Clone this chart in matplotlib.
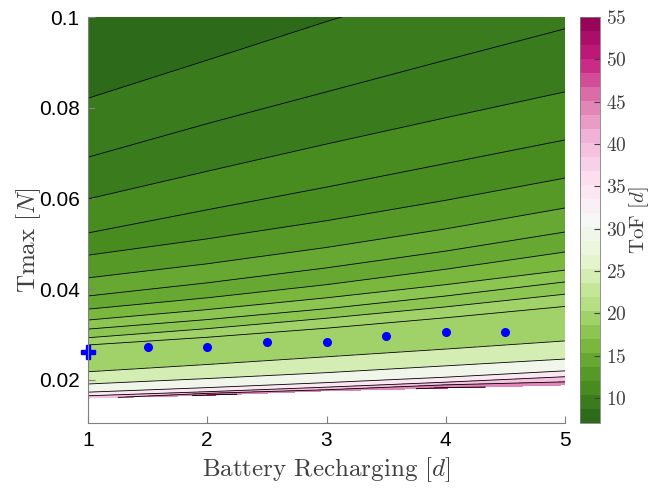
import numpy as np
import matplotlib
matplotlib.use("Agg")
import matplotlib.pyplot as plt
from matplotlib.colors import ListedColormap, Normalize
from matplotlib.cm import ScalarMappable

plt.rcParams['mathtext.fontset'] = 'cm'
plt.rcParams['axes.formatter.use_mathtext'] = True

# battery recharging [d] columns
recharge = [1, 2, 3, 4, 5]

# ToF contour levels and the Tmax [N] where each one sits, per column
tof_levels = [9, 10, 11, 12, 13, 14, 15, 16, 17, 18, 19, 20, 25, 30, 35, 40]
tmax_at_level = [
    [0.0821, 0.0905, 0.0990, 0.1070, 0.1150],
    [0.0691, 0.0765, 0.0835, 0.0905, 0.0974],
    [0.0599, 0.0660, 0.0720, 0.0778, 0.0835],
    [0.0524, 0.0575, 0.0625, 0.0677, 0.0729],
    [0.0475, 0.0511, 0.0551, 0.0596, 0.0645],
    [0.0425, 0.0456, 0.0492, 0.0533, 0.0579],
    [0.0385, 0.0414, 0.0447, 0.0484, 0.0526],
    [0.0356, 0.0381, 0.0410, 0.0444, 0.0482],
    [0.0332, 0.0355, 0.0381, 0.0410, 0.0442],
    [0.0312, 0.0333, 0.0357, 0.0385, 0.0416],
    [0.0293, 0.0313, 0.0336, 0.0361, 0.0389],
    [0.0277, 0.0294, 0.0314, 0.0337, 0.0362],
    [0.0218, 0.0234, 0.0251, 0.0268, 0.0286],
    [0.0191, 0.0203, 0.0216, 0.0231, 0.0246],
    [0.0173, 0.0183, 0.0194, 0.0206, 0.0220],
    [0.0165, 0.0174, 0.0184, 0.0195, 0.0207],
]
# upper edge (above plot) and lower edge (feasibility limit)
tmax_top = [0.125, 0.125, 0.125, 0.125, 0.125]
tof_top = [8.0, 8.2, 8.4, 8.6, 8.8]
tmax_edge = [0.0160, 0.0166, 0.0176, 0.0182, 0.0189]
tof_edge = [43, 51, 47, 51, 48]

# optimum points
opt_recharge = [1.5, 2, 2.5, 3, 3.5, 4, 4.5]
opt_tmax = [0.0273, 0.0273, 0.0284, 0.0284, 0.0297, 0.0306, 0.0306]
start_recharge = 1
start_tmax = 0.0262

fill_levels = [8] + tof_levels + [45, 50, 55]
cbar_ticks = [10, 15, 20, 25, 30, 35, 40, 45, 50, 55]

# build curvilinear grid (rows from bottom to top)
Y = np.vstack([tmax_edge] + tmax_at_level[::-1] + [tmax_top])
Z = np.vstack([tof_edge] + [[v] * len(recharge) for v in tof_levels[::-1]] + [tof_top])
X = np.tile(np.array(recharge, dtype=float), (Y.shape[0], 1))

ncol = 29
base = plt.get_cmap('PiYG_r')
cmap = ListedColormap(base((np.arange(ncol) + 0.5) / ncol))
norm = Normalize(vmin=7.05, vmax=55)
band_colors = [cmap(norm(v)) for v in fill_levels[:-1]]

fig = plt.figure(figsize=(6.53, 4.88), dpi=100)
ax = fig.add_axes([88 / 653, 65 / 488, 477 / 653, 406 / 488])
cax = fig.add_axes([580 / 653, 65 / 488, 20 / 653, 406 / 488])

ax.contourf(X, Y, Z, levels=fill_levels, colors=band_colors)
ax.contour(X, Y, Z, levels=fill_levels[1:-1], colors='k', linewidths=0.6)

ax.plot(opt_recharge, opt_tmax, 'o', color='blue', markersize=5.5)
ax.plot(start_recharge, start_tmax, 'P', color='blue', markersize=10, clip_on=False)

ax.set_xlim(1, 5)
ax.set_ylim(0.0105, 0.1)
ax.set_xticks([1, 2, 3, 4, 5])
ax.set_xticklabels(['1', '2', '3', '4', '5'])
ax.set_yticks([0.02, 0.04, 0.06, 0.08, 0.1])
ax.set_yticklabels(['0.02', '0.04', '0.06', '0.08', '0.1'])
for lab in ax.get_xticklabels() + ax.get_yticklabels():
    lab.set_fontfamily('Liberation Sans')
    lab.set_fontsize(15)
ax.tick_params(direction='in', length=5, color='#808080', pad=6)
for side in ['top', 'right']:
    ax.spines[side].set_visible(False)
for side in ['left', 'bottom']:
    ax.spines[side].set_color('#808080')
    ax.spines[side].set_linewidth(0.8)

ax.set_xlabel(r'Battery Recharging $[d]$', family='cmr10', fontsize=18, color='#404040')
ax.set_ylabel(r'Tmax $[N]$', family='cmr10', fontsize=18, color='#404040')
ax.xaxis.set_label_coords(0.5, -0.08)
ax.yaxis.set_label_coords(-0.095, 0.45)

sm = ScalarMappable(norm=norm, cmap=cmap)
cb = fig.colorbar(sm, cax=cax)
cb.set_ticks(cbar_ticks)
cb.ax.tick_params(direction='in', length=4, color='#404040', labelsize=14, pad=4)
for lab in cb.ax.get_yticklabels():
    lab.set_fontfamily('cmr10')
    lab.set_color('#404040')
cb.outline.set_edgecolor('#808080')
cb.outline.set_linewidth(0.6)
cb.set_label(r'ToF $[d]$', family='cmr10', fontsize=15, color='#404040', labelpad=1)

fig.savefig('out.png', dpi=100)
